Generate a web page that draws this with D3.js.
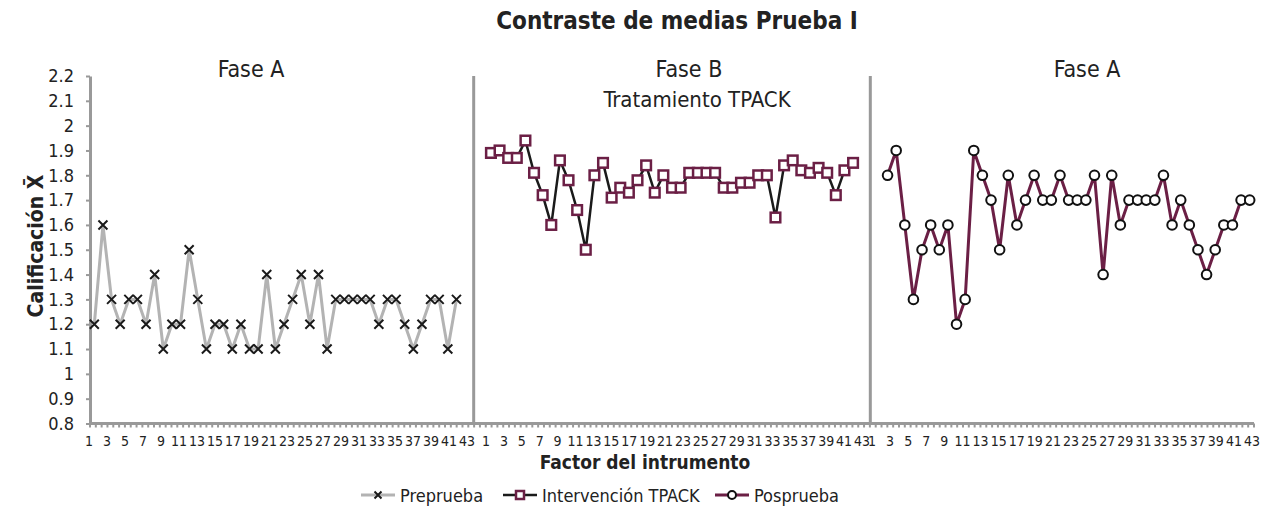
<!DOCTYPE html>
<html>
<head>
<meta charset="utf-8">
<script src="https://cdn.jsdelivr.net/npm/d3@7"></script>
<style>
  body { margin: 0; background: #fff; }
  text { font-family: "Liberation Sans Narrow", "DejaVu Sans Condensed", "Arial Narrow", sans-serif; fill: #222; }
</style>
</head>
<body>
<div id="chart"></div>
<script>
// data
const factors = [1,2,3,4,5,6,7,8,9,10,11,12,13,14,15,16,17,18,19,20,21,22,23,24,25,26,27,28,29,30,31,32,33,34,35,36,37,38,39,40,41,42,43];
const factorLabels = [1,3,5,7,9,11,13,15,17,19,21,23,25,27,29,31,33,35,37,39,41,43];

const preprueba = [1.2,1.6,1.3,1.2,1.3,1.3,1.2,1.4,1.1,1.2,1.2,1.5,1.3,1.1,1.2,1.2,1.1,1.2,1.1,1.1,1.4,1.1,1.2,1.3,1.4,1.2,1.4,1.1,1.3,1.3,1.3,1.3,1.3,1.2,1.3,1.3,1.2,1.1,1.2,1.3,1.3,1.1,1.3];
const intervencion = [1.89,1.90,1.87,1.87,1.94,1.81,1.72,1.60,1.86,1.78,1.66,1.50,1.80,1.85,1.71,1.75,1.73,1.78,1.84,1.73,1.80,1.75,1.75,1.81,1.81,1.81,1.81,1.75,1.75,1.77,1.77,1.80,1.80,1.63,1.84,1.86,1.82,1.81,1.83,1.81,1.72,1.82,1.85];
const posprueba = [1.8,1.9,1.6,1.3,1.5,1.6,1.5,1.6,1.2,1.3,1.9,1.8,1.7,1.5,1.8,1.6,1.7,1.8,1.7,1.7,1.8,1.7,1.7,1.7,1.8,1.4,1.8,1.6,1.7,1.7,1.7,1.7,1.8,1.6,1.7,1.6,1.5,1.4,1.5,1.6,1.6,1.7,1.7];

const seriesNames = ["Preprueba", "Intervención TPACK", "Posprueba"];
const phaseTitles = ["Fase A", "Fase B", "Fase A"];
const yTicks = [0.8,0.9,1,1.1,1.2,1.3,1.4,1.5,1.6,1.7,1.8,1.9,2,2.1,2.2];

const width = 1277, height = 514;
const plotLeft = 90, plotRight = 1254, plotTop = 76, plotBottom = 423.5;
const gap = 3; // empty slots between phases
const slotsPerPhase = factors.length + gap;
const totalSlots = slotsPerPhase * 2 + factors.length;

const maroon = "#6b1f45";

const svg = d3.select("#chart").append("svg")
  .attr("width", width)
  .attr("height", height);

const yScale = d3.scaleLinear()
  .domain([0.8, 2.2])
  .range([plotBottom, plotTop]);

const xScale = d3.scaleBand()
  .domain(d3.range(totalSlots))
  .range([plotLeft, plotRight]);

const px = (phase, i) => xScale(phase * slotsPerPhase + i) + xScale.bandwidth() / 2;

// title
svg.append("text")
  .attr("x", 677).attr("y", 29)
  .attr("text-anchor", "middle")
  .style("font-weight", "bold").style("font-size", "24px")
  .text("Contraste de medias Prueba I");

// phase headers
const headerX = [251, 689, 1087];
phaseTitles.forEach((t, i) => {
  svg.append("text")
    .attr("x", headerX[i]).attr("y", 77)
    .attr("text-anchor", "middle")
    .style("font-size", "23px")
    .text(t);
});
svg.append("text")
  .attr("x", 697).attr("y", 107)
  .attr("text-anchor", "middle")
  .style("font-size", "22px")
  .text("Tratamiento TPACK");

// y axis
const yAxis = d3.axisLeft(yScale)
  .tickValues(yTicks)
  .tickFormat(d => d3.format("~g")(d))
  .tickSize(4)
  .tickSizeOuter(0)
  .tickPadding(12);

const yAxisGroup = svg.append("g")
  .attr("transform", `translate(${plotLeft},0)`)
  .call(yAxis);
yAxisGroup.select(".domain").attr("stroke", "#999").attr("stroke-width", 3);
yAxisGroup.selectAll(".tick line").attr("stroke", "#999").attr("stroke-width", 2);
yAxisGroup.selectAll(".tick text")
  .style("font-size", "18px")
  .style("font-family", "'Liberation Sans Narrow', 'DejaVu Sans Condensed', sans-serif")
  .attr("fill", "#333");

// y label
svg.append("text")
  .attr("transform", "translate(43,246) rotate(-90)")
  .attr("text-anchor", "middle")
  .style("font-weight", "bold").style("font-size", "21px")
  .text("Calificación X\u0304");

// phase separators
[44, 90].forEach(s => {
  svg.append("line")
    .attr("x1", xScale(s) + xScale.bandwidth() / 2)
    .attr("x2", xScale(s) + xScale.bandwidth() / 2)
    .attr("y1", plotTop).attr("y2", plotBottom)
    .attr("stroke", "#999").attr("stroke-width", 3);
});

// x axis line and minor ticks
const tickScale = d3.scaleLinear().domain([0, 200]).range([plotLeft, plotRight]);
svg.selectAll(".xminor")
  .data(d3.range(201))
  .enter().append("line")
  .attr("class", "xminor")
  .attr("x1", d => tickScale(d)).attr("x2", d => tickScale(d))
  .attr("y1", plotBottom).attr("y2", plotBottom + 4)
  .attr("stroke", "#999").attr("stroke-width", 2);
svg.append("line")
  .attr("x1", plotLeft).attr("x2", plotRight)
  .attr("y1", plotBottom).attr("y2", plotBottom)
  .attr("stroke", "#999").attr("stroke-width", 3);

// factor labels, one block per phase
const labelRanges = [[89, 467], [486, 862], [872, 1252]];
labelRanges.forEach(r => {
  const ls = d3.scaleLinear().domain([1, 43]).range(r);
  svg.append("g").selectAll("text")
    .data(factorLabels)
    .enter().append("text")
    .attr("x", d => ls(d)).attr("y", 446)
    .attr("text-anchor", "middle")
    .style("font-size", "14px")
    .text(d => d);
});

svg.append("text")
  .attr("x", 645).attr("y", 469)
  .attr("text-anchor", "middle")
  .style("font-weight", "bold").style("font-size", "19px")
  .text("Factor del intrumento");

// markers
function drawCross(g, x, y, s) {
  g.append("path")
    .attr("d", `M${x - s},${y - s}L${x + s},${y + s}M${x - s},${y + s}L${x + s},${y - s}`)
    .attr("stroke", "#1a1a1a").attr("stroke-width", 2).attr("fill", "none");
}
function drawSquare(g, x, y, s) {
  g.append("rect")
    .attr("x", x - s).attr("y", y - s).attr("width", 2 * s).attr("height", 2 * s)
    .attr("fill", "#fff").attr("stroke", maroon).attr("stroke-width", 2.5);
}
function drawCircle(g, x, y, r) {
  g.append("circle")
    .attr("cx", x).attr("cy", y).attr("r", r)
    .attr("fill", "#fff").attr("stroke", "#111").attr("stroke-width", 2);
}

const series = [
  { values: preprueba, line: "#b3b3b3", lw: 3, marker: drawCross, size: 4.5 },
  { values: intervencion, line: "#1a1a1a", lw: 2.5, marker: drawSquare, size: 4.8 },
  { values: posprueba, line: maroon, lw: 3, marker: drawCircle, size: 4.8 }
];

series.forEach((s, phase) => {
  const line = d3.line()
    .x((d, i) => px(phase, i))
    .y(d => yScale(d));
  svg.append("path")
    .datum(s.values)
    .attr("d", line)
    .attr("fill", "none")
    .attr("stroke", s.line)
    .attr("stroke-width", s.lw)
    .attr("stroke-linejoin", "round");
  const g = svg.append("g");
  s.values.forEach((v, i) => s.marker(g, px(phase, i), yScale(v), s.size));
});

// legend
const legendX = [361, 503, 715];
series.forEach((s, i) => {
  const g = svg.append("g").attr("transform", `translate(${legendX[i]},495)`);
  g.append("line")
    .attr("x1", 0).attr("x2", 34).attr("y1", 0).attr("y2", 0)
    .attr("stroke", s.line).attr("stroke-width", s.lw);
  s.marker(g, 17, 0, i === 0 ? 3.5 : 4);
  g.append("text")
    .attr("x", 39).attr("y", 7)
    .style("font-size", "18px")
    .text(seriesNames[i]);
});
</script>
</body>
</html>
